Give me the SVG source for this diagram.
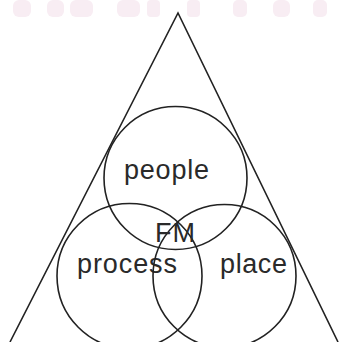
<svg xmlns="http://www.w3.org/2000/svg" width="339" height="342" viewBox="0 0 339 342">
<style>
.ln{fill:none;stroke:#222222;stroke-width:1.6}
.t{font-family:"Liberation Sans",Arial,sans-serif;font-size:27px;fill:#2a2a2a}
.wm{fill:#f8edf3}
</style>
<rect width="339" height="342" fill="#ffffff"/>
<g id="watermark">
<rect class="wm" x="13" y="0" width="18" height="17" rx="6"/>
<rect class="wm" x="47" y="0" width="17" height="17" rx="6"/>
<rect class="wm" x="70" y="0" width="23" height="17" rx="6"/>
<rect class="wm" x="117" y="0" width="23" height="17" rx="6"/>
<rect class="wm" x="147" y="0" width="13" height="17" rx="4"/>
<rect class="wm" x="187" y="0" width="13" height="17" rx="4"/>
<rect class="wm" x="233" y="0" width="14" height="17" rx="5"/>
<rect class="wm" x="273" y="0" width="17" height="17" rx="6"/>
<rect class="wm" x="313" y="0" width="14" height="17" rx="5"/>
</g>
<g id="triangle">
<polyline class="ln" points="10,342 178,13 338,342"/>
</g>
<g id="people">
<circle class="ln" cx="175.5" cy="178" r="71.5"/>
<text class="t" x="124" y="179" textLength="85" lengthAdjust="spacing">people</text>
</g>
<g id="process">
<circle class="ln" cx="129.5" cy="276" r="72.5"/>
<text class="t" x="77" y="273" textLength="100" lengthAdjust="spacing">process</text>
</g>
<g id="place">
<circle class="ln" cx="224.5" cy="276" r="71.5"/>
<text class="t" x="220" y="273" textLength="67" lengthAdjust="spacing">place</text>
</g>
<g id="FM">
<text class="t" x="155" y="242" textLength="40" lengthAdjust="spacing">FM</text>
</g>
<g id="connectors"/>
</svg>
